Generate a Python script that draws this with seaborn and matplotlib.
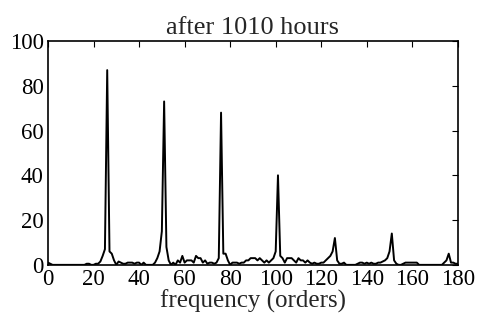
import numpy as np
import pandas as pd
import matplotlib
matplotlib.use("Agg")
import matplotlib.pyplot as plt
import seaborn as sns

# spectrum, one value per order (0..180)
orders = list(range(0, 181))
amplitude = [
    1, 0.5, 0, 0, 0, 0, 0, 0, 0, 0,            # 0-9
    0, 0, 0, 0, 0, 0, 0, 0.5, 0.5, 0,          # 10-19
    0, 0.5, 0.5, 1.5, 4, 7, 87, 6, 5, 2,       # 20-29
    0, 1.5, 1, 0.5, 0.5, 1, 1, 1, 0.5, 1,      # 30-39
    1, 0, 1, 0, 0, 0, 0, 1, 3, 6,              # 40-49
    15, 73, 8, 2, 0, 1, 0, 2, 1, 4,            # 50-59
    1, 2, 2, 2, 1, 4, 3, 3, 1, 2,              # 60-69
    0.5, 1, 1, 0.5, 1, 3, 68, 5, 5, 2,         # 70-79
    0, 1, 1, 1, 0.5, 1, 1, 2, 2, 3,            # 80-89
    3, 3, 2, 3, 2, 1, 2, 1, 2, 3,              # 90-99
    6, 40, 4, 3, 1, 3, 3, 3, 2, 1,             # 100-109
    3, 2, 2, 1, 2, 1, 0.5, 1, 0.5, 0.5,        # 110-119
    1, 1, 2, 3, 4, 6, 12, 2, 0.5, 0.5,         # 120-129
    1, 0, 0, 0, 0, 0, 0.5, 1, 1, 0.5,          # 130-139
    1, 0.5, 1, 0.5, 0.5, 1, 1, 1.5, 2, 3,      # 140-149
    6, 14, 2, 0.5, 0, 0, 0.5, 1, 1, 1,         # 150-159
    1, 1, 1, 0, 0, 0, 0, 0, 0, 0,              # 160-169
    0, 0, 0, 0, 1, 2, 5, 1, 1, 0.5,            # 170-179
    0.5,                                       # 180
]

x_ticks = [0, 20, 40, 60, 80, 100, 120, 140, 160, 180]
y_ticks = [0, 20, 40, 60, 80, 100]

df = pd.DataFrame({"order": orders, "amp": amplitude})

sns.set_style("white")
plt.rcParams["font.family"] = ["Liberation Serif", "DejaVu Serif"]
plt.rcParams["xtick.direction"] = "in"
plt.rcParams["ytick.direction"] = "in"

fig = plt.figure(figsize=(4.85, 3.23), dpi=100)
ax = fig.add_axes([0.099, 0.18, 0.845, 0.693])

sns.lineplot(data=df, x="order", y="amp", ax=ax, color="black", linewidth=1.4)

ax.set_xlim(0, 180)
ax.set_ylim(0, 100)
ax.set_xticks(x_ticks)
ax.set_yticks(y_ticks)
ax.tick_params(top=True, right=True, length=4, width=0.8,
               labelsize=16.5, colors="black")
ax.tick_params(axis="x", pad=3)
ax.tick_params(axis="y", pad=3)
for s in ax.spines.values():
    s.set_color("black")
    s.set_linewidth(1.2)

ax.set_title("after 1010 hours", fontsize=19, pad=5)
ax.set_xlabel("frequency (orders)", fontsize=18, labelpad=0)
ax.set_ylabel("")

fig.savefig("out.png", dpi=100)
